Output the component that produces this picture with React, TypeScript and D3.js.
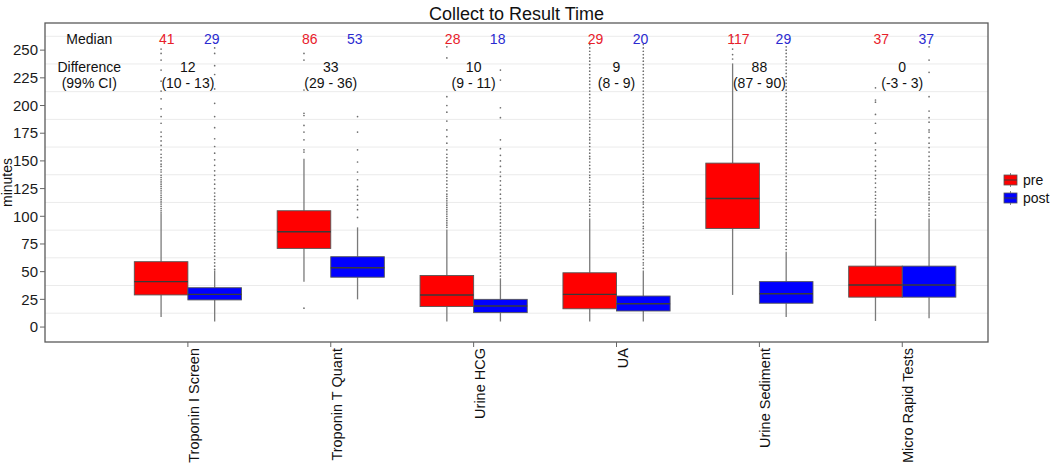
import React from "react";
import * as d3 from "d3";

// categories and per-group box stats: [lower whisker, q1, median, q3, upper whisker]
const categories = ["Troponin I Screen", "Troponin T Quant", "Urine HCG", "UA", "Urine Sediment", "Micro Rapid Tests"];
const groups = ["pre", "post"];
const preStats = [
  [9, 29, 41, 59, 102],
  [41, 71, 86, 105, 152],
  [5, 18.5, 29, 46.5, 88],
  [5, 16.5, 29.5, 49, 98],
  [29, 89, 116, 148, 238],
  [5.5, 27, 38, 55, 98],
];
const postStats = [
  [5, 24.5, 29.5, 35.5, 51],
  [25, 45, 53.5, 63.5, 90],
  [5, 13, 19, 25, 44],
  [5, 14.5, 21, 28, 51],
  [9, 21.5, 30, 41, 68],
  [8, 27, 38, 55, 98],
];

// outliers
const preOutliers = [
  [103, 105, 107, 109, 111, 113, 115, 117, 119, 121, 123, 125, 127, 129, 131, 133, 135, 137, 140, 142, 145, 147, 150, 153, 156, 160, 164, 168, 172, 176, 184, 190, 197, 206, 213, 222, 232, 241, 247, 251],
  [17, 158, 160, 169, 176, 182, 191, 193, 214, 241, 247],
  [90, 92, 94, 96, 98, 100, 102, 104, 106, 108, 110, 112, 114, 116, 118, 120, 123, 126, 129, 132, 135, 138, 141, 144, 147, 150, 153, 156, 160, 166, 172, 178, 186, 194, 200, 208, 243, 253],
  [100, 102, 105, 107, 110, 113, 115, 118, 121, 124, 126, 129, 132, 135, 137, 140, 143, 146, 149, 152, 154, 157, 160, 163, 166, 169, 171, 174, 177, 180, 183, 186, 189, 192, 195, 198, 201, 204, 207, 210, 213, 216, 219, 222, 225, 228, 231, 234, 237, 240, 243, 246, 249, 252, 255],
  [242, 246, 251, 256, 262],
  [101, 104, 107, 110, 113, 116, 119, 122, 126, 130, 134, 137, 141, 145, 150, 155, 160, 166, 175, 184, 192, 203, 205, 216],
];
const postOutliers = [
  [52, 55, 58, 61, 64, 67, 70, 73, 76, 79, 82, 85, 88, 91, 94, 97, 100, 103, 106, 109, 112, 115, 118, 121, 125, 129, 133, 137, 141, 146, 151, 157, 163, 170, 180, 190, 202, 215, 228, 236, 247, 252],
  [99, 106, 110, 115, 119, 124, 127, 133, 140, 149, 160, 176, 190],
  [46, 49, 52, 55, 58, 61, 64, 67, 70, 73, 76, 79, 82, 85, 88, 91, 94, 97, 100, 103, 106, 109, 112, 116, 120, 124, 128, 132, 136, 140, 145, 150, 155, 161, 169, 189, 198, 223, 232],
  [53, 56, 58, 61, 64, 67, 69, 72, 75, 78, 80, 83, 86, 89, 91, 94, 97, 100, 102, 105, 108, 111, 113, 116, 119, 122, 124, 127, 130, 133, 135, 138, 141, 144, 147, 150, 153, 156, 159, 162, 165, 168, 171, 174, 177, 180, 183, 186, 189, 192, 195, 198, 201, 204, 207, 210, 213, 216, 219, 222, 225, 228, 231, 234, 237, 240, 243, 246, 249, 252, 255],
  [70, 73, 76, 79, 82, 85, 88, 91, 94, 97, 100, 103, 106, 109, 112, 115, 118, 121, 124, 127, 130, 133, 136, 139, 142, 145, 148, 151, 154, 157, 160, 163, 166, 169, 172, 175, 178, 181, 184, 187, 190, 193, 196, 199, 202, 205, 208, 211, 214, 217, 220, 223, 226, 229, 232, 235, 238, 241, 244, 247, 250, 253],
  [100, 102, 105, 107, 110, 112, 115, 117, 120, 122, 125, 128, 131, 134, 137, 140, 143, 146, 150, 154, 158, 162, 166, 171, 176, 178, 185, 189, 195, 208, 230, 241, 253],
];

// annotation values
const preMedians = [41, 86, 28, 29, 117, 37];
const postMedians = [29, 53, 18, 20, 29, 37];
const differences = [12, 33, 10, 9, 88, 0];
const ciLabels = ["10 - 13", "29 - 36", "9 - 11", "8 - 9", "87 - 90", "-3 - 3"];
const yTicks = [0, 25, 50, 75, 100, 125, 150, 175, 200, 225, 250];
const minorGrid = [12.5, 37.5, 62.5, 87.5, 112.5, 137.5, 162.5, 187.5, 212.5, 237.5, 262.5];

const colors = { pre: "#ff0000", post: "#0000ff" };
const font = "'Liberation Sans', Arial, sans-serif";

export default function App() {
  const width = 1050, height = 470;
  const left = 45, right = 988, top = 23, bottom = 342;

  // discrete positions 1..6 on a continuous scale, with room on the left for the row labels
  const x = d3.scaleLinear().domain([0, 6.6]).range([left, right]);
  const y = d3.scaleLinear().domain([-13.5, 274.5]).range([bottom, top]);
  const dodge = d3.scaleBand().domain(groups).range([-0.375, 0.375]);
  const boxW = x(dodge.bandwidth()) - x(0);

  const drawBox = (s: number[], outl: number[], ci: number, g: string) => {
    const cx = x(ci + 1 + (dodge(g) as number) + dodge.bandwidth() / 2);
    const [lo, q1, med, q3, hi] = s;
    return (
      <g key={g + ci}>
        <line x1={cx} x2={cx} y1={y(hi)} y2={y(q3)} stroke="#7a7a7a" strokeWidth={1.3} />
        <line x1={cx} x2={cx} y1={y(q1)} y2={y(lo)} stroke="#7a7a7a" strokeWidth={1.3} />
        {outl.map((v, i) => (
          <circle key={i} cx={cx} cy={y(v)} r={0.85} fill="#6e6e6e" />
        ))}
        <rect x={cx - boxW / 2} y={y(q3)} width={boxW} height={y(q1) - y(q3)}
          fill={colors[g as "pre" | "post"]} stroke="#555" strokeWidth={0.9} />
        <line x1={cx - boxW / 2} x2={cx + boxW / 2} y1={y(med)} y2={y(med)} stroke="#3a3a3a" strokeWidth={1.4} />
      </g>
    );
  };

  return (
    <svg width={width} height={height} style={{ position: "absolute", left: 0, top: 0, background: "#fff" }}
      fontFamily={font}>
      <rect x={0} y={0} width={width} height={height} fill="#fff" />
      {minorGrid.map((v) => (
        <line key={v} x1={left} x2={right} y1={y(v)} y2={y(v)} stroke="#ebebeb" strokeWidth={1} />
      ))}

      {categories.map((c, i) => (
        <g key={c}>
          {drawBox(preStats[i], preOutliers[i], i, "pre")}
          {drawBox(postStats[i], postOutliers[i], i, "post")}
        </g>
      ))}

      <rect x={left} y={top} width={right - left} height={bottom - top} fill="none" stroke="#5a5a5a" strokeWidth={1.3} />

      {/* y axis */}
      {yTicks.map((t) => (
        <g key={t}>
          <line x1={left - 5} x2={left} y1={y(t)} y2={y(t)} stroke="#666" />
          <text x={left - 7} y={y(t)} dy="0.35em" textAnchor="end" fontSize={15} fill="#1a1a1a">{t}</text>
        </g>
      ))}
      <text transform={`translate(12,${(top + bottom) / 2}) rotate(-90)`} textAnchor="middle" fontSize={14} fill="#111">minutes</text>

      {/* x axis */}
      {categories.map((c, i) => (
        <g key={c}>
          <line x1={x(i + 1)} x2={x(i + 1)} y1={bottom} y2={bottom + 5} stroke="#666" />
          <text transform={`translate(${x(i + 1) + 6},${bottom + 6}) rotate(-90)`} textAnchor="end" dy="0.35em"
            fontSize={14.5} fill="#111">{c}</text>
        </g>
      ))}

      {/* annotations */}
      <g fontSize={14} textAnchor="middle">
        <text x={x(0.31)} y={y(260)} dy="0.35em" fill="#111">Median</text>
        <text x={x(0.31)} y={y(235)} dy="0.35em" fill="#111">Difference</text>
        <text x={x(0.31)} y={y(220)} dy="0.35em" fill="#111">(99% CI)</text>
        {categories.map((c, i) => (
          <g key={c}>
            <text x={x(i + 1 - 0.147)} y={y(260)} dy="0.35em" fill="#e8202a">{preMedians[i]}</text>
            <text x={x(i + 1 + 0.168)} y={y(260)} dy="0.35em" fill="#2a2ad0">{postMedians[i]}</text>
            <text x={x(i + 1)} y={y(235)} dy="0.35em" fill="#111">{differences[i]}</text>
            <text x={x(i + 1)} y={y(220)} dy="0.35em" fill="#111">({ciLabels[i]})</text>
          </g>
        ))}
      </g>

      <text x={(left + right) / 2} y={20} textAnchor="middle" fontSize={18} fill="#111">Collect to Result Time</text>

      {/* legend */}
      {groups.map((g, i) => {
        const ky = 174 + i * 18;
        return (
          <g key={g}>
            <line x1={1010.5} x2={1010.5} y1={ky - 1} y2={ky + 13} stroke="#888" />
            <rect x={1004} y={ky + 1} width={13} height={10} fill={colors[g as "pre" | "post"]} stroke="#555" strokeWidth={0.8} />
            <line x1={1004} x2={1017} y1={ky + 6} y2={ky + 6} stroke="#3a3a3a" strokeWidth={1} />
            <text x={1023} y={ky + 6} dy="0.35em" fontSize={14} fill="#111">{g}</text>
          </g>
        );
      })}
    </svg>
  );
}
